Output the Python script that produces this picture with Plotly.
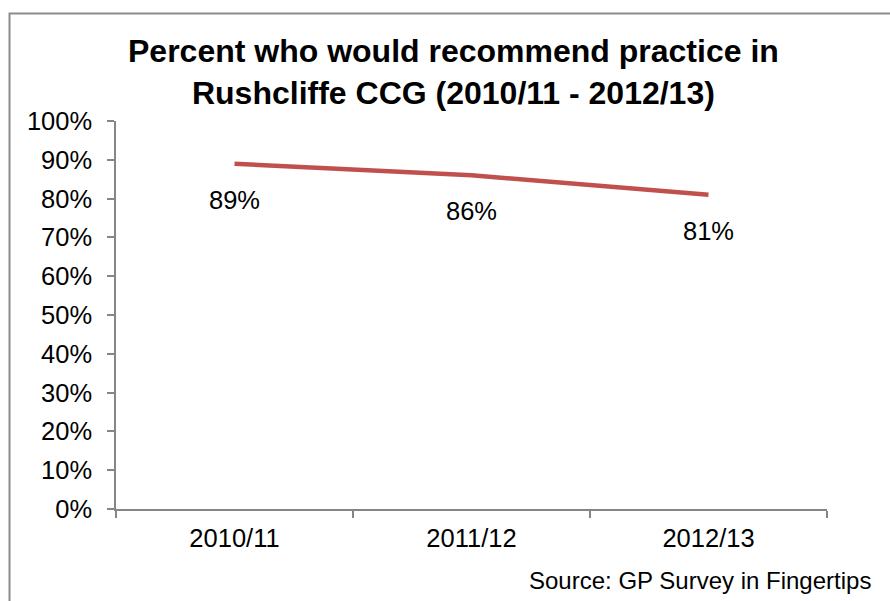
import plotly.graph_objects as go

# Survey periods and share of patients who would recommend their practice
periods = ["2010/11", "2011/12", "2012/13"]
recommend_pct = [89, 86, 81]
y_ticks = list(range(0, 101, 10))
y_tick_labels = [f"{v}%" for v in y_ticks]

FONT = "Liberation Sans, Arial, sans-serif"
AXIS_GREY = "#868686"
LINE_RED = "#C0504D"

W, H = 890, 601
M_L, M_R, M_T, M_B = 116, 63, 121, 92
plot_w = W - M_L - M_R
plot_h = H - M_T - M_B


def px_to_paper_x(px):
    return (px - M_L) / plot_w


def px_to_paper_y(py):
    return (H - M_B - py) / plot_h


fig = go.Figure()

fig.add_trace(go.Scatter(
    x=periods,
    y=recommend_pct,
    mode="lines",
    line=dict(color=LINE_RED, width=4.5),
    hoverinfo="skip",
    showlegend=False,
))

# value labels sit below each point
for p, v in zip(periods, recommend_pct):
    fig.add_annotation(
        x=p, y=v, xref="x", yref="y",
        text=f"{v}%", showarrow=False,
        yshift=-36,
        font=dict(family=FONT, size=25.5, color="#000000"),
    )

# chart title, two lines
fig.add_annotation(
    x=px_to_paper_x(453.5), y=px_to_paper_y(72),
    xref="paper", yref="paper",
    xanchor="center", yanchor="middle",
    text="<b>Percent who would recommend practice in<br>Rushcliffe CCG (2010/11 - 2012/13)</b>",
    showarrow=False,
    font=dict(family=FONT, size=32, color="#000000"),
)

# source note
fig.add_annotation(
    x=px_to_paper_x(873), y=px_to_paper_y(580),
    xref="paper", yref="paper",
    xanchor="right", yanchor="middle",
    text="Source: GP Survey in Fingertips", showarrow=False,
    font=dict(family=FONT, size=24, color="#000000"),
)

# outer chart frame
fig.add_shape(
    type="rect", xref="paper", yref="paper",
    x0=px_to_paper_x(9.5), x1=px_to_paper_x(905),
    y0=px_to_paper_y(620), y1=px_to_paper_y(13.5),
    line=dict(color="#8c8c8c", width=2),
    fillcolor="rgba(0,0,0,0)", layer="below",
)

fig.update_layout(
    width=W, height=H,
    margin=dict(l=M_L, r=M_R, t=M_T, b=M_B, autoexpand=False),
    paper_bgcolor="white", plot_bgcolor="white",
    xaxis=dict(
        type="category",
        range=[-0.5, 2.5],
        showline=True, linecolor=AXIS_GREY, linewidth=1.5,
        ticks="outside", tickson="boundaries", ticklen=7,
        tickcolor=AXIS_GREY, tickwidth=1.5,
        showgrid=False, zeroline=False,
        tickfont=dict(family=FONT, size=25.5, color="#000000"),
        ticklabelstandoff=6,
    ),
    yaxis=dict(
        range=[0, 100],
        tickvals=y_ticks, ticktext=y_tick_labels,
        showline=True, linecolor=AXIS_GREY, linewidth=1.5,
        ticks="outside", ticklen=7,
        tickcolor=AXIS_GREY, tickwidth=1.5,
        showgrid=False, zeroline=False,
        tickfont=dict(family=FONT, size=25.5, color="#000000"),
        ticklabelstandoff=10,
    ),
)

fig.write_html("out.html")
